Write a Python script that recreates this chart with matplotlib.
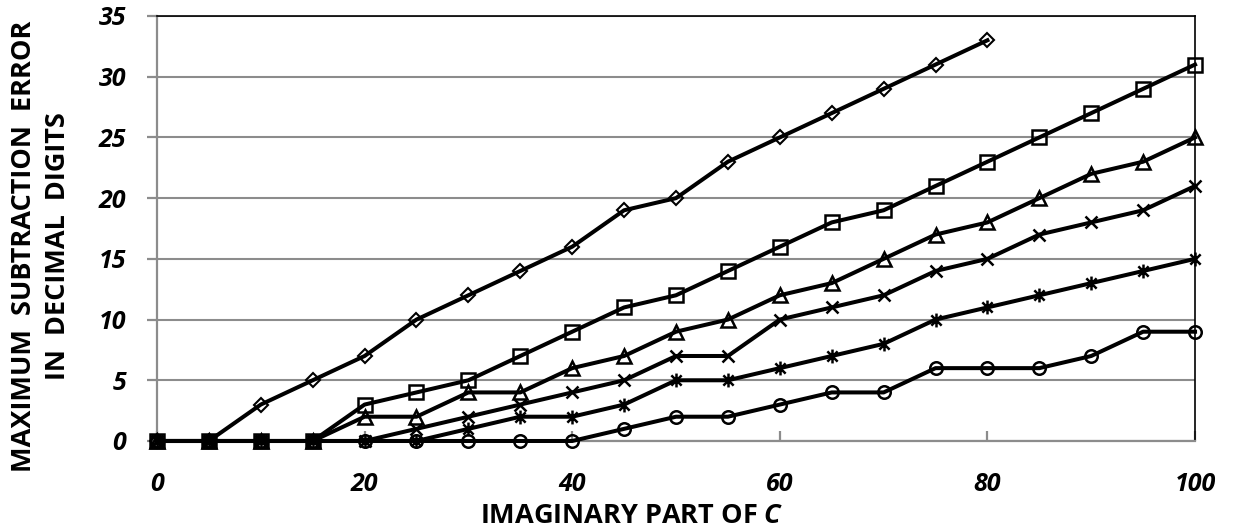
import matplotlib
matplotlib.use("Agg")
import matplotlib.pyplot as plt
from matplotlib.path import Path

# Imaginary part of C (x axis)
x_full = [0, 5, 10, 15, 20, 25, 30, 35, 40, 45, 50, 55, 60, 65, 70, 75, 80, 85, 90, 95, 100]
x_diamond = x_full[:17]

# Maximum subtraction error in decimal digits, one list per series
err_diamond = [0, 0, 3, 5, 7, 10, 12, 14, 16, 19, 20, 23, 25, 27, 29, 31, 33]
err_square = [0, 0, 0, 0, 3, 4, 5, 7, 9, 11, 12, 14, 16, 18, 19, 21, 23, 25, 27, 29, 31]
err_triangle = [0, 0, 0, 0, 2, 2, 4, 4, 6, 7, 9, 10, 12, 13, 15, 17, 18, 20, 22, 23, 25]
err_cross = [0, 0, 0, 0, 0, 1, 2, 3, 4, 5, 7, 7, 10, 11, 12, 14, 15, 17, 18, 19, 21]
err_star = [0, 0, 0, 0, 0, 0, 1, 2, 2, 3, 5, 5, 6, 7, 8, 10, 11, 12, 13, 14, 15]
err_circle = [0, 0, 0, 0, 0, 0, 0, 0, 0, 1, 2, 2, 3, 4, 4, 6, 6, 6, 7, 9, 9]

x_ticks = [0, 20, 40, 60, 80, 100]
y_ticks = [0, 5, 10, 15, 20, 25, 30, 35]

FONT = "Open Sans"
GRAY = "#8c8c8c"

plt.rcParams["font.family"] = [FONT, "DejaVu Sans"]
plt.rcParams["mathtext.fontset"] = "custom"
plt.rcParams["mathtext.it"] = f"{FONT}:italic:bold"
plt.rcParams["mathtext.rm"] = f"{FONT}:bold"

# asterisk marker: an x with a vertical stroke through it
star_path = Path(
    [(-1, -1), (1, 1), (-1, 1), (1, -1), (0, -1.35), (0, 1.35)],
    [Path.MOVETO, Path.LINETO, Path.MOVETO, Path.LINETO, Path.MOVETO, Path.LINETO],
)

fig = plt.figure(figsize=(12.38, 5.31), dpi=100)
ax = fig.add_axes([0.1268, 0.1695, 0.8385, 0.8004])

line_kw = dict(color="black", lw=2.9, markerfacecolor="none",
               markeredgecolor="black", clip_on=False, zorder=3)

ax.plot(x_diamond, err_diamond, marker="D", ms=7, mew=1.5, **line_kw)
ax.plot(x_full, err_square, marker="s", ms=9.5, mew=1.8, **line_kw)
ax.plot(x_full, err_triangle, marker="^", ms=9.5, mew=1.8, **line_kw)
ax.plot(x_full, err_cross, marker="x", ms=9, mew=1.8, **line_kw)
ax.plot(x_full, err_star, marker=star_path, ms=10, mew=1.8, **line_kw)
ax.plot(x_full, err_circle, marker="o", ms=9, mew=1.8, **line_kw)

ax.set_xlim(0, 100)
ax.set_ylim(0, 35)
ax.set_xticks(x_ticks)
ax.set_yticks(y_ticks)

ax.yaxis.grid(True, color=GRAY, lw=1.5)
ax.set_axisbelow(True)

for side in ("left", "bottom"):
    ax.spines[side].set_color(GRAY)
    ax.spines[side].set_linewidth(1.6)
for side in ("top", "right"):
    ax.spines[side].set_color("black")
    ax.spines[side].set_linewidth(1.2)

ax.tick_params(axis="x", direction="in", length=7, width=1.6, color=GRAY, pad=22)
ax.tick_params(axis="y", direction="out", length=7, width=1.6, color=GRAY, pad=15)

for lab in ax.get_xticklabels() + ax.get_yticklabels():
    lab.set_fontsize(18)
    lab.set_fontweight("bold")
    lab.set_fontstyle("italic")

fig.text(0.5105, 0.0151, r"IMAGINARY PART OF $C$", ha="center", va="baseline",
         fontsize=19.5, fontweight="bold")
fig.text(0.0192, 0.5367, "MAXIMUM  SUBTRACTION  ERROR", rotation=90,
         ha="center", va="center", fontsize=19.5, fontweight="bold")
fig.text(0.0468, 0.5367, "IN  DECIMAL  DIGITS", rotation=90,
         ha="center", va="center", fontsize=19.5, fontweight="bold")

fig.savefig("out.png", dpi=100)
